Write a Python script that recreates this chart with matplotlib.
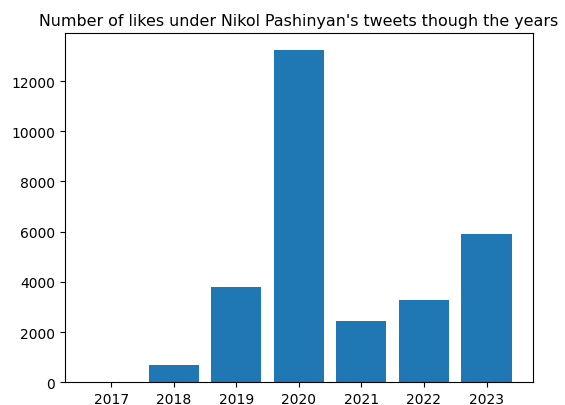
import matplotlib.pyplot as plt

# data
years = ["2017", "2018", "2019", "2020", "2021", "2022", "2023"]
likes = [0, 680, 3780, 13250, 2440, 3280, 5910]

fig, ax = plt.subplots(figsize=(5.65, 4.06), dpi=100)
fig.subplots_adjust(left=0.115, right=0.943, top=0.916, bottom=0.056)

ax.bar(years, likes, color="#1f77b4")
ax.set_title("Number of likes under Nikol Pashinyan's tweets though the years", fontsize=11.4)

fig.savefig("out.png", dpi=100)
